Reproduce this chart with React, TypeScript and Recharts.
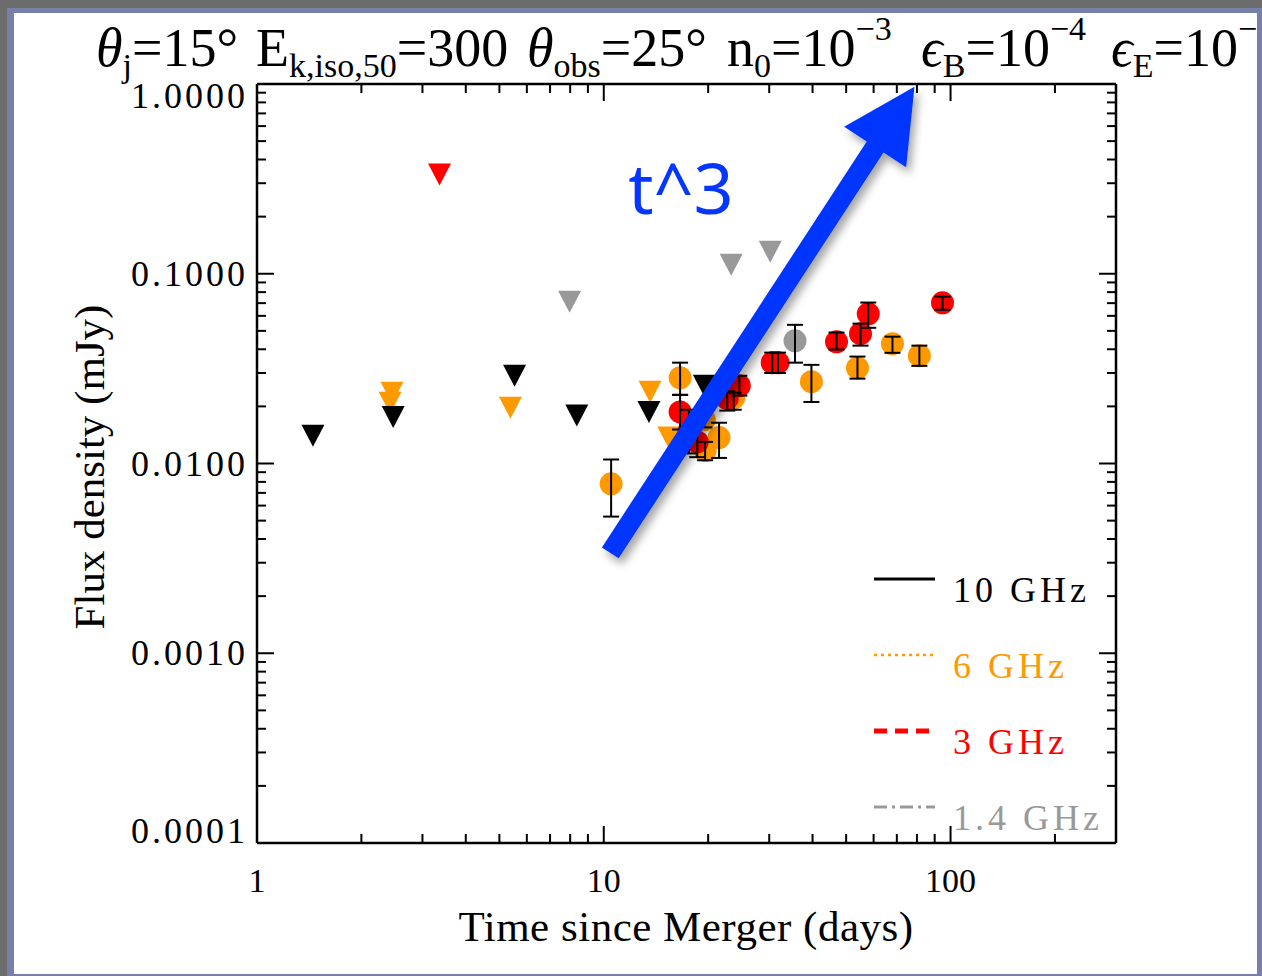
import React from 'react';
import { ComposedChart, Scatter, XAxis, YAxis, ErrorBar, ReferenceLine } from 'recharts';

const W = 1262;
const H = 976;
// plot box in page pixels
const PLOT = { left: 257, right: 1116, top: 84, bottom: 843 };

const SERIF = '"Liberation Serif", "Times New Roman", serif';
const SANS = '"Noto Sans", "Open Sans", sans-serif';

const C10 = '#000000';
const C6 = '#ff9900';
const C3 = '#ff0000';
const C14 = '#999999';
const ARROW = '#0536ff';

// axis ticks
const xTicks = [1, 2, 3, 4, 5, 6, 7, 8, 9, 10, 20, 30, 40, 50, 60, 70, 80, 90, 100, 200, 300];
const xLabels = [1, 10, 100];
const yTicks = [
  0.0001, 0.0002, 0.0003, 0.0004, 0.0005, 0.0006, 0.0007, 0.0008, 0.0009,
  0.001, 0.002, 0.003, 0.004, 0.005, 0.006, 0.007, 0.008, 0.009,
  0.01, 0.02, 0.03, 0.04, 0.05, 0.06, 0.07, 0.08, 0.09,
  0.1, 0.2, 0.3, 0.4, 0.5, 0.6, 0.7, 0.8, 0.9, 1,
];
const yLabels = [0.0001, 0.001, 0.01, 0.1, 1];

// upper limits (days, mJy)
const ul10Days = [1.45, 2.47, 5.53, 8.36, 13.5, 19.5];
const ul10Flux = [0.014, 0.0176, 0.029, 0.0179, 0.0187, 0.0257];
const ul6Days = [2.45, 2.42, 5.38, 13.6, 15.4];
const ul6Flux = [0.0236, 0.0209, 0.0197, 0.0239, 0.0137];
const ul3Days = [3.36];
const ul3Flux = [0.333];
const ul14Days = [7.97, 23.3, 30.2];
const ul14Flux = [0.0712, 0.1115, 0.1306];

// detections with lower / upper error bounds
const det6Days = [10.5, 16.6, 19.5, 19.6, 21.5, 23.7, 39.7, 53.9, 68, 81.3];
const det6Flux = [0.00782, 0.0283, 0.017, 0.0117, 0.0137, 0.0222, 0.027, 0.0319, 0.0428, 0.037];
const det6Lo = [0.00525, 0.023, 0.0155, 0.0104, 0.0107, 0.0192, 0.0211, 0.028, 0.0383, 0.0327];
const det6Hi = [0.0105, 0.034, 0.0186, 0.013, 0.0164, 0.0236, 0.0331, 0.0366, 0.0466, 0.0418];

const det3Days = [16.6, 17.6, 18.6, 22.7, 24.6, 30.6, 31.8, 46.9, 55, 57.9, 94.8];
const det3Flux = [0.0187, 0.0147, 0.013, 0.022, 0.0257, 0.034, 0.034, 0.0438, 0.0483, 0.0615, 0.0703];
const det3Lo = [0.0151, 0.0113, 0.0108, 0.019, 0.0228, 0.03, 0.03, 0.0399, 0.0418, 0.0519, 0.0646];
const det3Hi = [0.023, 0.0192, 0.0156, 0.024, 0.029, 0.0384, 0.0384, 0.049, 0.0546, 0.0705, 0.0757];

const det14Days = [35.6];
const det14Flux = [0.0443];
const det14Lo = [0.034];
const det14Hi = [0.0538];

// t^3 guide arrow, tail and tip in data units
const arrowSegment = [
  { x: 10.44, y: 0.00338 },
  { x: 78.7, y: 0.968 },
];

const toPoints = (days: number[], flux: number[]) => days.map((t, i) => ({ t, f: flux[i] }));
const toDetections = (days: number[], flux: number[], lo: number[], hi: number[]) =>
  days.map((t, i) => ({ t, f: flux[i], err: [flux[i] - lo[i], hi[i] - flux[i]] }));

const ul10 = toPoints(ul10Days, ul10Flux);
const ul6 = toPoints(ul6Days, ul6Flux);
const ul3 = toPoints(ul3Days, ul3Flux);
const ul14 = toPoints(ul14Days, ul14Flux);
const det6 = toDetections(det6Days, det6Flux, det6Lo, det6Hi);
const det3 = toDetections(det3Days, det3Flux, det3Lo, det3Hi);
const det14 = toDetections(det14Days, det14Flux, det14Lo, det14Hi);

const DownTriangle = (p: any) => (
  <polygon
    points={`${p.cx - 11.5},${p.cy - 11} ${p.cx + 11.5},${p.cy - 11} ${p.cx},${p.cy + 11}`}
    fill={p.fill}
  />
);
const Dot = (p: any) => <circle cx={p.cx} cy={p.cy} r={11.5} fill={p.fill} />;
const Blank = () => <g />;

const XTick = (p: any) => {
  const v = p.payload.value;
  const major = xLabels.includes(v);
  const len = major ? 17 : 9;
  if (p.side === 'top') {
    return <line x1={p.x} x2={p.x} y1={PLOT.top} y2={PLOT.top + len} stroke="#000" strokeWidth={2} />;
  }
  return (
    <g>
      <line x1={p.x} x2={p.x} y1={PLOT.bottom} y2={PLOT.bottom - len} stroke="#000" strokeWidth={2} />
      {major && (
        <text x={p.x} y={892} textAnchor="middle" fontFamily={SERIF} fontSize={34} fill="#000">
          {v}
        </text>
      )}
    </g>
  );
};

const YTick = (p: any) => {
  const v = p.payload.value;
  const major = yLabels.includes(v);
  const len = major ? 17 : 9;
  if (p.side === 'right') {
    return <line x1={PLOT.right} x2={PLOT.right - len} y1={p.y} y2={p.y} stroke="#000" strokeWidth={2} />;
  }
  const dy = v === 1 ? 24 : v === 0.0001 ? 0 : 12;
  return (
    <g>
      <line x1={PLOT.left} x2={PLOT.left + len} y1={p.y} y2={p.y} stroke="#000" strokeWidth={2} />
      {major && (
        <text
          x={248}
          y={p.y + dy}
          textAnchor="end"
          fontFamily={SERIF}
          fontSize={36}
          letterSpacing={3}
          fill="#000"
        >
          {v.toFixed(4)}
        </text>
      )}
    </g>
  );
};

const ArrowShape = (props: any) => {
  const { x1, y1, x2, y2 } = props;
  const dx = x2 - x1;
  const dy = y2 - y1;
  const L = Math.hypot(dx, dy);
  const ux = dx / L;
  const uy = dy / L;
  const nx = -uy;
  const ny = ux;
  const hw = 10; // shaft half width
  const hh = 37; // head half width
  const hl = 72; // head length
  const bx = x2 - ux * hl;
  const by = y2 - uy * hl;
  const pts = [
    [x1 + nx * hw, y1 + ny * hw],
    [bx + nx * hw, by + ny * hw],
    [bx + nx * hh, by + ny * hh],
    [x2, y2],
    [bx - nx * hh, by - ny * hh],
    [bx - nx * hw, by - ny * hw],
    [x1 - nx * hw, y1 - ny * hw],
  ];
  return (
    <g>
      <defs>
        <filter id="arrowShadow" x="-30%" y="-30%" width="160%" height="160%">
          <feDropShadow dx={4} dy={6} stdDeviation={4} floodColor="#000" floodOpacity={0.35} />
        </filter>
      </defs>
      <polygon points={pts.map((q) => q.join(',')).join(' ')} fill={ARROW} filter="url(#arrowShadow)" />
    </g>
  );
};

const legendRows = [
  { label: '10 GHz', color: C10, y: 579, dash: undefined, width: 3 },
  { label: '6 GHz', color: C6, y: 655, dash: '3 4', width: 2.5 },
  { label: '3 GHz', color: C3, y: 731, dash: '13 8', width: 5 },
  { label: '1.4 GHz', color: C14, y: 807, dash: '13 5 3 5', width: 3 },
];

export default function App() {
  const axisLine = { stroke: '#000', strokeWidth: 2.5 };
  return (
    <div style={{ position: 'fixed', left: 0, top: 0, width: W, height: H, background: '#6c6c6c', overflow: 'hidden' }}>
      <div
        style={{
          position: 'absolute',
          left: 7,
          top: 8,
          width: 1256,
          height: 972,
          boxSizing: 'border-box',
          borderLeft: '7px solid #7880aa',
          borderTop: '5px solid #7880aa',
          borderRight: '6px solid #7880aa',
          borderBottom: '6px solid #7880aa',
          background: '#fff',
          overflow: 'hidden',
        }}
      >
        <div style={{ position: 'absolute', left: -14, top: -13, width: W, height: H }}>
          <ComposedChart
            width={W}
            height={H}
            margin={{ top: PLOT.top - 20, right: W - PLOT.right - 40, bottom: H - PLOT.bottom - 40, left: PLOT.left - 40 }}
          >
            <XAxis
              xAxisId="b"
              dataKey="t"
              type="number"
              scale="log"
              domain={[1, 300]}
              allowDataOverflow
              ticks={xTicks}
              interval={0}
              height={40}
              tickLine={false}
              axisLine={axisLine}
              tick={(p: any) => <XTick {...p} side="bottom" />}
            />
            <XAxis
              xAxisId="t"
              orientation="top"
              dataKey="t"
              type="number"
              scale="log"
              domain={[1, 300]}
              allowDataOverflow
              ticks={xTicks}
              interval={0}
              height={20}
              tickLine={false}
              axisLine={axisLine}
              tick={(p: any) => <XTick {...p} side="top" />}
            />
            <YAxis
              yAxisId="l"
              dataKey="f"
              type="number"
              scale="log"
              domain={[0.0001, 1]}
              allowDataOverflow
              ticks={yTicks}
              interval={0}
              width={40}
              tickLine={false}
              axisLine={axisLine}
              tick={(p: any) => <YTick {...p} side="left" />}
            />
            <YAxis
              yAxisId="r"
              orientation="right"
              dataKey="f"
              type="number"
              scale="log"
              domain={[0.0001, 1]}
              allowDataOverflow
              ticks={yTicks}
              interval={0}
              width={40}
              tickLine={false}
              axisLine={axisLine}
              tick={(p: any) => <YTick {...p} side="right" />}
            />

            <Scatter xAxisId="b" yAxisId="l" data={ul14} fill={C14} shape={DownTriangle} isAnimationActive={false} />
            <Scatter xAxisId="b" yAxisId="l" data={ul3} fill={C3} shape={DownTriangle} isAnimationActive={false} />
            <Scatter xAxisId="b" yAxisId="l" data={ul6} fill={C6} shape={DownTriangle} isAnimationActive={false} />
            <Scatter xAxisId="b" yAxisId="l" data={ul10} fill={C10} shape={DownTriangle} isAnimationActive={false} />

            <Scatter xAxisId="b" yAxisId="l" data={det6} fill={C6} shape={Dot} isAnimationActive={false} />
            <Scatter xAxisId="b" yAxisId="l" data={det3} fill={C3} shape={Dot} isAnimationActive={false} />
            <Scatter xAxisId="b" yAxisId="l" data={det14} fill={C14} shape={Dot} isAnimationActive={false} />

            {/* error bars go in their own series so they sit above the dots */}
            {[det6, det3, det14].map((d, i) => (
              <Scatter
                key={i}
                xAxisId="b"
                yAxisId="l"
                data={d}
                fill="none"
                shape={Blank}
                isAnimationActive={false}
                zIndex={800}
              >
                <ErrorBar
                  dataKey="err"
                  direction="y"
                  width={8}
                  stroke="#000"
                  strokeWidth={2}
                  isAnimationActive={false}
                  zIndex={800}
                />
              </Scatter>
            ))}

            <ReferenceLine
              xAxisId="b"
              yAxisId="l"
              segment={arrowSegment}
              shape={ArrowShape}
              zIndex={1500}
            />
          </ComposedChart>
        </div>

        <svg
          width={W}
          height={H}
          style={{ position: 'absolute', left: -14, top: -13, pointerEvents: 'none' }}
        >
          <g fontFamily={SERIF} fontSize={54} fill="#000">
            <text x={96} y={66}>
              <tspan fontStyle="italic">θ</tspan>
              <tspan dy={11} fontSize={34}>j</tspan>
              <tspan dy={-11}>=15°</tspan>
            </text>
            <text x={256} y={66}>
              E<tspan dy={11} fontSize={34}>k,iso,50</tspan>
              <tspan dy={-11}>=300</tspan>
            </text>
            <text x={527} y={66}>
              <tspan fontStyle="italic">θ</tspan>
              <tspan dy={11} fontSize={34}>obs</tspan>
              <tspan dy={-11}>=25°</tspan>
            </text>
            <text x={727} y={66}>
              n<tspan dy={11} fontSize={34}>0</tspan>
              <tspan dy={-11}>=10</tspan>
              <tspan dy={-26} fontSize={34}>−3</tspan>
            </text>
            <text x={921} y={66}>
              <tspan fontStyle="italic">ϵ</tspan>
              <tspan dy={11} fontSize={34}>B</tspan>
              <tspan dy={-11}>=10</tspan>
              <tspan dy={-26} fontSize={34}>−4</tspan>
            </text>
            <text x={1111} y={66}>
              <tspan fontStyle="italic">ϵ</tspan>
              <tspan dy={11} fontSize={34}>E</tspan>
              <tspan dy={-11}>=10</tspan>
              <tspan dy={-26} fontSize={34}>−3</tspan>
            </text>
          </g>

          <text x={686} y={941} textAnchor="middle" fontFamily={SERIF} fontSize={43} letterSpacing={0.5} fill="#000">
            Time since Merger (days)
          </text>
          <text
            transform="translate(104,467) rotate(-90)"
            textAnchor="middle"
            fontFamily={SERIF}
            fontSize={43}
            fill="#000"
          >
            Flux density (mJy)
          </text>

          <text x={681} y={214} textAnchor="middle" fontFamily={SANS} fontSize={70} fill={ARROW}>
            t^3
          </text>

          {legendRows.map((r) => (
            <g key={r.label}>
              <line x1={874} x2={935} y1={r.y} y2={r.y} stroke={r.color} strokeWidth={r.width} strokeDasharray={r.dash} />
              <text x={953} y={r.y + 23} fontFamily={SERIF} fontSize={36} letterSpacing={4} fill={r.color}>
                {r.label}
              </text>
            </g>
          ))}
        </svg>
      </div>
    </div>
  );
}
